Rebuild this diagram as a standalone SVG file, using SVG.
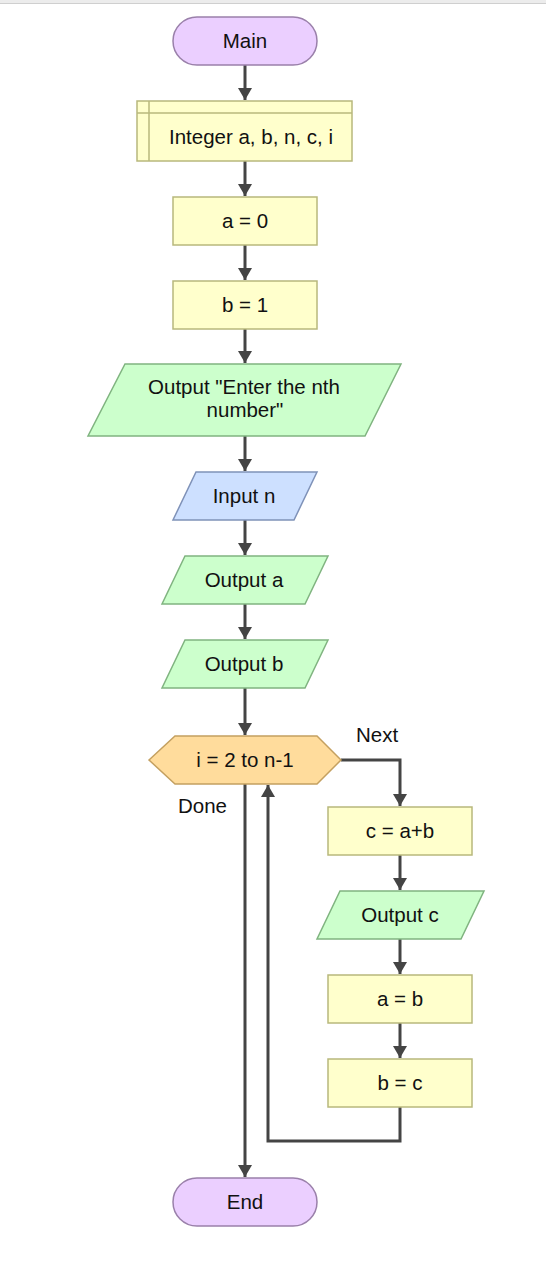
<svg xmlns="http://www.w3.org/2000/svg" width="546" height="1280" viewBox="0 0 546 1280">
<defs>
<style>
text{font-family:"Liberation Sans",Arial,sans-serif;font-size:20.5px;fill:#111;text-anchor:middle}
.lbl{text-anchor:start}
.term{fill:#ebcfff;stroke:#9a80aa;stroke-width:1.5}
.proc{fill:#ffffcc;stroke:#b8b87c;stroke-width:1.5}
.out{fill:#ccffcc;stroke:#80b480;stroke-width:1.5}
.inp{fill:#cde0ff;stroke:#7f92b8;stroke-width:1.5}
.loop{fill:#ffdc9c;stroke:#c4a060;stroke-width:1.5}
.c{fill:none;stroke:#444;stroke-width:3}
</style>
<marker id="ah" viewBox="0 0 12 14" refX="12" refY="7" markerWidth="12" markerHeight="14" markerUnits="userSpaceOnUse" orient="auto">
<path d="M0,0 L12,7 L0,14 z" fill="#444"/>
</marker>
</defs>
<rect x="0" y="0" width="546" height="3" fill="#ececec"/>
<line x1="0" y1="3.5" x2="546" y2="3.5" stroke="#cfcfcf" stroke-width="1"/>

<g id="connectors">
<line class="c" x1="245" y1="65" x2="245" y2="100" marker-end="url(#ah)"/>
<line class="c" x1="245" y1="161" x2="245" y2="196" marker-end="url(#ah)"/>
<line class="c" x1="245" y1="245" x2="245" y2="280" marker-end="url(#ah)"/>
<line class="c" x1="245" y1="329" x2="245" y2="363" marker-end="url(#ah)"/>
<line class="c" x1="245" y1="436" x2="245" y2="471" marker-end="url(#ah)"/>
<line class="c" x1="245" y1="520" x2="245" y2="555" marker-end="url(#ah)"/>
<line class="c" x1="245" y1="604" x2="245" y2="639" marker-end="url(#ah)"/>
<line class="c" x1="245" y1="688" x2="245" y2="735" marker-end="url(#ah)"/>
<polyline class="c" points="341,760 400,760 400,806" marker-end="url(#ah)"/>
<line class="c" x1="400" y1="855" x2="400" y2="890" marker-end="url(#ah)"/>
<line class="c" x1="400" y1="939" x2="400" y2="974" marker-end="url(#ah)"/>
<line class="c" x1="400" y1="1023" x2="400" y2="1058" marker-end="url(#ah)"/>
<polyline class="c" points="400,1107 400,1141 268,1141 268,785" marker-end="url(#ah)"/>
<line class="c" x1="245" y1="784" x2="245" y2="1177" marker-end="url(#ah)"/>
<text class="lbl" x="356" y="742">Next</text>
<text class="lbl" x="178" y="813">Done</text>
</g>

<g id="main">
<rect class="term" x="173" y="17" width="144" height="48" rx="24"/>
<text x="245" y="48">Main</text>
</g>
<g id="declare">
<rect class="proc" x="137" y="101" width="215" height="60"/>
<line x1="149" y1="101" x2="149" y2="161" stroke="#b8b87c" stroke-width="1.5"/>
<line x1="137" y1="113" x2="352" y2="113" stroke="#b8b87c" stroke-width="1.5"/>
<text x="251" y="144">Integer a, b, n, c, i</text>
</g>
<g id="assign_a">
<rect class="proc" x="173" y="197" width="144" height="48"/>
<text x="245" y="228">a = 0</text>
</g>
<g id="assign_b">
<rect class="proc" x="173" y="281" width="144" height="48"/>
<text x="245" y="312">b = 1</text>
</g>
<g id="output_prompt">
<polygon class="out" points="125,364 401,364 365,436 88,436"/>
<text x="244" y="394">Output "Enter the nth</text>
<text x="245" y="417">number"</text>
</g>
<g id="input_n">
<polygon class="inp" points="196,472 317,472 294,520 173,520"/>
<text x="244" y="503">Input n</text>
</g>
<g id="output_a">
<polygon class="out" points="185,556 328,556 305,604 162,604"/>
<text x="244" y="587">Output a</text>
</g>
<g id="output_b">
<polygon class="out" points="185,640 328,640 305,688 162,688"/>
<text x="244" y="671">Output b</text>
</g>
<g id="for_loop">
<polygon class="loop" points="149,760 175,736 317,736 341,760 317,784 175,784"/>
<text x="245" y="767">i = 2 to n-1</text>
</g>
<g id="assign_c">
<rect class="proc" x="328" y="807" width="144" height="48"/>
<text x="400" y="838">c = a+b</text>
</g>
<g id="output_c">
<polygon class="out" points="340,891 484,891 461,939 317,939"/>
<text x="400" y="922">Output c</text>
</g>
<g id="assign_ab">
<rect class="proc" x="328" y="975" width="144" height="48"/>
<text x="400" y="1006">a = b</text>
</g>
<g id="assign_bc">
<rect class="proc" x="328" y="1059" width="144" height="48"/>
<text x="400" y="1090">b = c</text>
</g>
<g id="end">
<rect class="term" x="173" y="1178" width="144" height="48" rx="24"/>
<text x="245" y="1209">End</text>
</g>
</svg>
